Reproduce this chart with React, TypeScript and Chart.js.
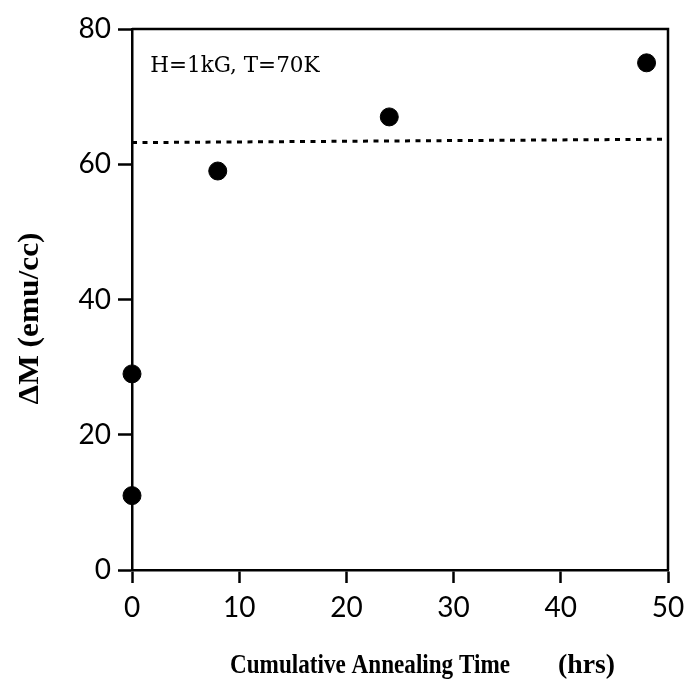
import React, { useEffect, useRef } from "react";
import { Chart, registerables } from "chart.js";

Chart.register(...registerables);

const annealTimes = [0, 0, 8, 24, 48];
const deltaM = [11, 29, 59, 67, 75];
const refLineX = [0, 50];
const refLineY = [63.2, 63.7];
const xTicks = [0, 10, 20, 30, 40, 50];
const yTicks = [0, 20, 40, 60, 80];
const annotationText = "H=1kG, T=70K";
const annotationPos = { x: 1.7, y: 74.5 };
const xTitleMain = "Cumulative Annealing Time";
const xTitleUnit = "(hrs)";
const yTitle = "\u0394M (emu/cc)";

// draw text squeezed to a target width (the original typeface is condensed)
function fitText(ctx: any, text: string, x: number, y: number, width: number) {
  const w = ctx.measureText(text).width;
  ctx.save();
  ctx.translate(x, y);
  ctx.scale(width / w, 1);
  ctx.textAlign = "left";
  ctx.fillText(text, 0, 0);
  ctx.restore();
}

const textPlugin = {
  id: "annot",
  afterDraw(chart: any) {
    const { ctx, scales, chartArea } = chart;
    const px = scales.x.getPixelForValue(annotationPos.x);
    const py = scales.y.getPixelForValue(annotationPos.y);
    ctx.save();
    ctx.fillStyle = "#000";
    ctx.font = "21.5px 'DejaVu Serif'";
    ctx.textAlign = "left";
    ctx.textBaseline = "middle";
    ctx.fillText(annotationText, px, py);

    // x-axis title
    ctx.font = "bold 28px 'Liberation Serif'";
    ctx.textBaseline = "middle";
    const titleY = chartArea.bottom + 96;
    fitText(ctx, xTitleMain, chartArea.left + 98, titleY, 280);
    fitText(ctx, xTitleUnit, chartArea.left + 426, titleY, 57);

    // y-axis title
    ctx.save();
    ctx.translate(30, (chartArea.top + chartArea.bottom) / 2 + 19);
    ctx.rotate(-Math.PI / 2);
    ctx.font = "bold 30px 'Liberation Serif'";
    ctx.textBaseline = "middle";
    const tw = ctx.measureText(yTitle).width;
    ctx.scale(172 / tw, 1);
    ctx.textAlign = "center";
    ctx.fillText(yTitle, 0, 0);
    ctx.restore();

    ctx.restore();
  },
};

const boxPlugin = {
  id: "box",
  afterDraw(chart: any) {
    const { ctx, chartArea } = chart;
    ctx.save();
    ctx.strokeStyle = "#000";
    ctx.lineWidth = 2.5;
    ctx.beginPath();
    ctx.moveTo(chartArea.left, chartArea.top);
    ctx.lineTo(chartArea.right, chartArea.top);
    ctx.lineTo(chartArea.right, chartArea.bottom);
    ctx.stroke();
    ctx.restore();
  },
};

export default function App() {
  const ref = useRef<HTMLCanvasElement>(null);
  useEffect(() => {
    if (!ref.current) return;
    const chart = new Chart(ref.current, {
      type: "scatter",
      data: {
        datasets: [
          {
            data: annealTimes.map((x, i) => ({ x, y: deltaM[i] })),
            backgroundColor: "#000",
            borderColor: "#000",
            pointRadius: 9,
            pointHoverRadius: 9,
            showLine: false,
            clip: false as any,
          },
          {
            data: refLineX.map((x, i) => ({ x, y: refLineY[i] })),
            showLine: true,
            borderColor: "#000",
            borderWidth: 3,
            borderDash: [5, 5.5],
            pointRadius: 0,
            fill: false,
          },
        ],
      },
      options: {
        animation: false,
        responsive: false,
        maintainAspectRatio: false,
        events: [],
        layout: { padding: { top: 29, right: 19, left: 0, bottom: 0 } },
        plugins: { legend: { display: false }, tooltip: { enabled: false } },
        scales: {
          x: {
            type: "linear",
            min: 0,
            max: 50,
            afterBuildTicks: (s: any) => {
              s.ticks = xTicks.map((v) => ({ value: v }));
            },
            afterFit: (s: any) => {
              s.height = 114;
              s.paddingLeft = 0;
              s.paddingRight = 0;
            },
            border: { display: true, color: "#000", width: 2.5 },
            grid: {
              drawOnChartArea: false,
              drawTicks: true,
              tickLength: 13,
              tickWidth: 2.5,
              tickColor: "#000",
            },
            ticks: {
              color: "#000",
              font: { family: "Lato", size: 28 },
              padding: 8,
              maxRotation: 0,
            },
          },
          y: {
            type: "linear",
            min: 0,
            max: 80,
            afterBuildTicks: (s: any) => {
              s.ticks = yTicks.map((v) => ({ value: v }));
            },
            afterFit: (s: any) => {
              s.width = 132;
              s.paddingTop = 0;
              s.paddingBottom = 0;
            },
            border: { display: true, color: "#000", width: 2.5 },
            grid: {
              drawOnChartArea: false,
              drawTicks: true,
              tickLength: 14,
              tickWidth: 2.5,
              tickColor: "#000",
            },
            ticks: {
              color: "#000",
              font: { family: "Lato", size: 28 },
              padding: 7,
            },
          },
        },
      },
      plugins: [textPlugin, boxPlugin],
    } as any);
    return () => chart.destroy();
  }, []);
  return (
    <div style={{ position: "fixed", left: 0, top: 0, width: 687, height: 684, background: "#fff" }}>
      <canvas ref={ref} width={687} height={684} style={{ width: 687, height: 684 }} />
    </div>
  );
}
